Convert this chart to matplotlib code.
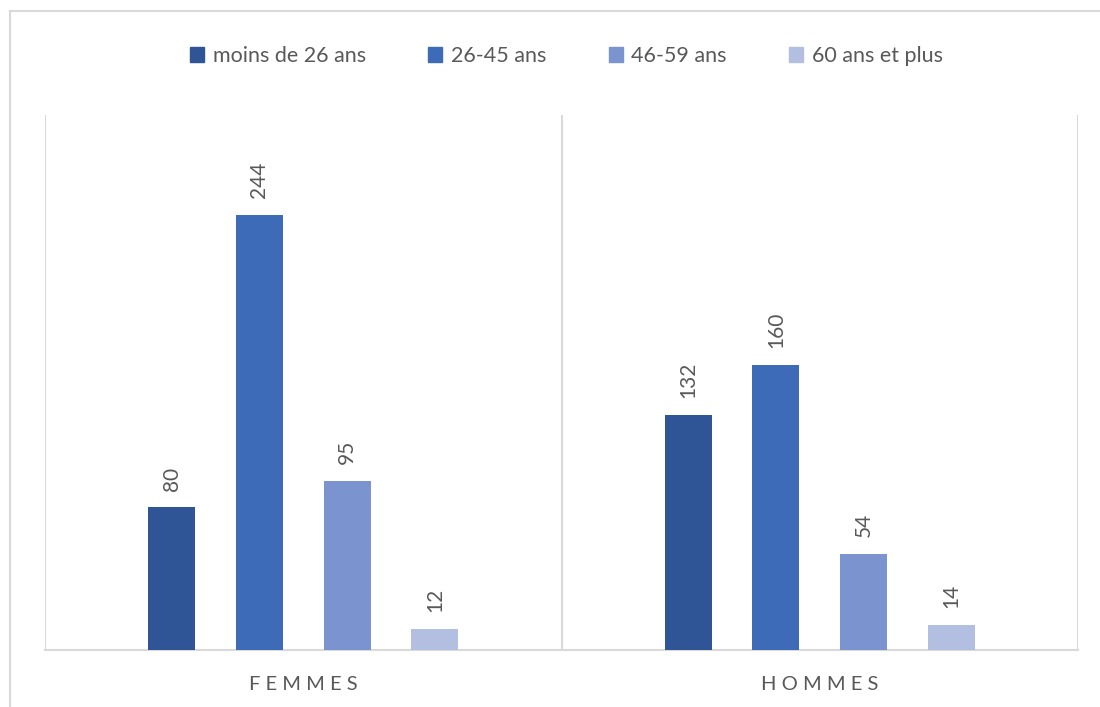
import numpy as np
import matplotlib
matplotlib.use("Agg")
import matplotlib.pyplot as plt
from matplotlib.lines import Line2D
from matplotlib.patches import Patch

categories = ["FEMMES", "HOMMES"]
series = ["moins de 26 ans", "26-45 ans", "46-59 ans", "60 ans et plus"]
values = {
    "moins de 26 ans": [80, 132],
    "26-45 ans": [244, 160],
    "46-59 ans": [95, 54],
    "60 ans et plus": [12, 14],
}
colors = ["#2F5597", "#3E6BB8", "#7B94D0", "#B3BFE0"]

plt.rcParams['font.family'] = ['Lato', 'DejaVu Sans']

fig = plt.figure(figsize=(11, 7.07), dpi=100)
ax = fig.add_axes([45 / 1100, 1 - 650 / 707, (1078 - 45) / 1100, (650 - 115) / 707])

x = np.arange(len(categories))
width = 0.091
step = 0.170
for i, (name, col) in enumerate(zip(series, colors)):
    offs = (i - 1.5) * step
    bars = ax.bar(x + offs, values[name], width, color=col, label=name, zorder=3)
    for b, v in zip(bars, values[name]):
        ax.annotate(str(v), (b.get_x() + b.get_width() / 2, b.get_height()),
                    xytext=(0, 12), textcoords="offset points",
                    rotation=90, ha="center", va="bottom",
                    fontsize=15, color="#595959")

ax.set_xlim(-0.5, 1.5)
ax.set_ylim(0, 300)
ax.set_yticks([])
ax.set_xticks([])
for s in ["top", "right", "left"]:
    ax.spines[s].set_visible(False)
ax.spines["bottom"].set_color("#D9D9D9")
ax.spines["bottom"].set_linewidth(1.5)
for xs in [-0.5, 0.5, 1.5]:
    ax.axvline(xs, color="#D9D9D9", lw=1.5, zorder=1)

# spaced-out category labels
for xi, cat in zip(x, categories):
    ax.text(xi, -0.065, " ".join(cat), transform=ax.get_xaxis_transform(),
            ha="center", va="center", fontsize=14.5, color="#595959")

handles = [Patch(color=c) for c in colors]
fig.legend(handles, series, loc="center", bbox_to_anchor=(0.515, 1 - 56 / 707),
           ncol=4, frameon=False, fontsize=15.5, labelcolor="#595959",
           handlelength=0.65, handleheight=0.65, handletextpad=0.4, columnspacing=2.9)

# outer chart border (left and top)
fig.add_artist(Line2D([10 / 1100, 10 / 1100], [0, 1 - 11 / 707], transform=fig.transFigure,
                      color="#D9D9D9", lw=1.5))
fig.add_artist(Line2D([10 / 1100, 1], [1 - 11 / 707, 1 - 11 / 707], transform=fig.transFigure,
                      color="#D9D9D9", lw=1.5))

fig.savefig("out.png", dpi=100)
